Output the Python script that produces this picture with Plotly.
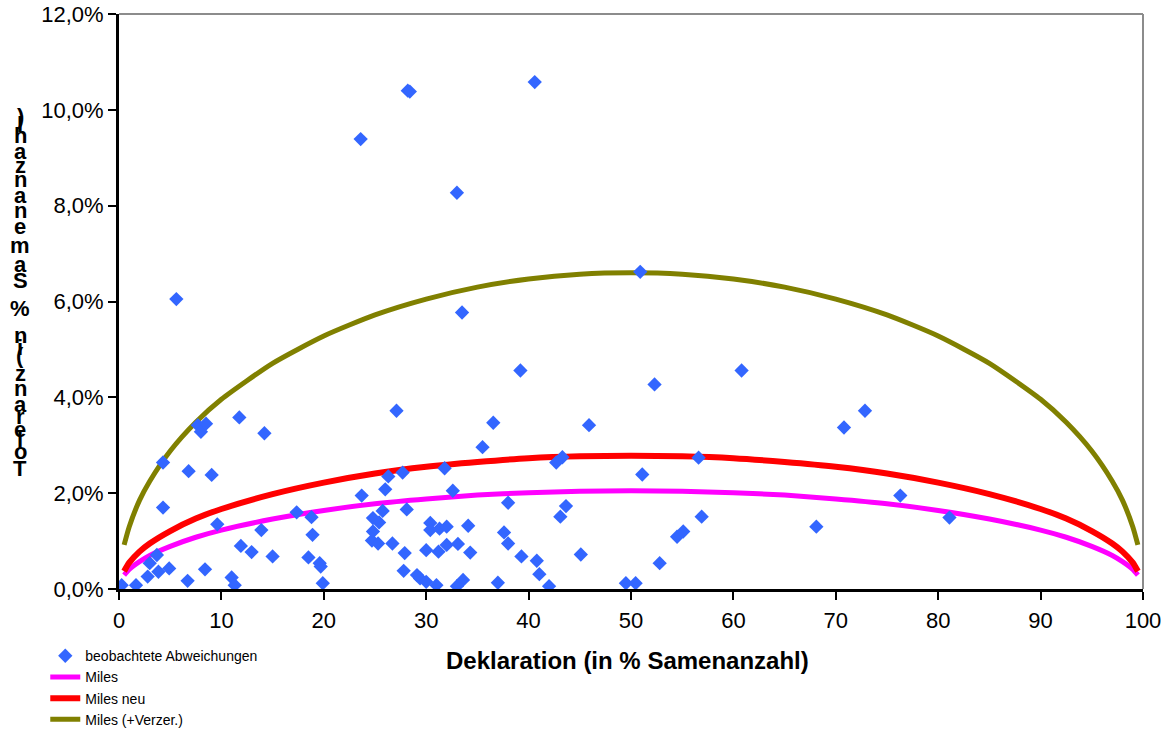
import plotly.graph_objects as go

# Beobachtete Abweichungen: Deklaration (% Samenanzahl) vs. Abweichung (%)
obs_x = [0.26, 1.66, 2.8, 3.0, 3.7, 3.85, 4.9, 4.3, 4.3, 5.6,
         6.7, 6.8, 7.7, 8.0, 8.5, 8.4, 9.05, 9.6, 11.0, 11.3,
         11.75, 11.9, 12.95, 13.9, 14.2, 15.0, 17.35, 18.5, 18.8, 18.9,
         19.6, 19.7, 19.9, 23.6, 23.7, 24.7, 24.8, 24.8, 25.3, 25.4,
         25.75, 26.0, 26.3, 26.7, 27.1, 27.7, 27.8, 27.9, 28.1, 28.2,
         28.4, 29.1, 29.4, 30.0, 30.0, 30.4, 30.4, 31.0, 31.2, 31.3,
         31.8, 32.0, 32.0, 32.6, 33.0, 33.0, 33.1, 33.5, 33.6, 34.1,
         34.3, 35.5, 36.55, 37.0, 37.6, 38.0, 38.0, 39.2, 39.3, 40.6,
         40.8, 41.05, 42.0, 42.7, 43.3, 43.1, 43.65, 45.1, 45.9, 49.5,
         50.45, 50.9, 51.1, 52.3, 52.8, 54.5, 55.1, 56.6, 56.9, 60.8,
         68.1, 70.8, 72.85, 76.3, 81.1]
obs_y = [0.08, 0.08, 0.26, 0.54, 0.71, 0.36, 0.43, 2.64, 1.70, 6.05,
         0.17, 2.46, 3.42, 3.28, 3.45, 0.41, 2.38, 1.35, 0.24, 0.08,
         3.58, 0.90, 0.77, 1.23, 3.25, 0.68, 1.60, 0.66, 1.50, 1.13,
         0.54, 0.47, 0.12, 9.39, 1.95, 1.01, 1.48, 1.20, 0.95, 1.39,
         1.63, 2.08, 2.35, 0.95, 3.72, 2.43, 0.38, 0.75, 1.66, 10.40,
         10.38, 0.29, 0.22, 0.15, 0.81, 1.38, 1.23, 0.08, 0.78, 1.26,
         2.52, 1.30, 0.92, 2.05, 8.27, 0.06, 0.94, 5.77, 0.19, 1.32,
         0.76, 2.96, 3.47, 0.13, 1.18, 0.95, 1.80, 4.56, 0.68, 10.58,
         0.59, 0.31, 0.06, 2.64, 2.75, 1.51, 1.73, 0.72, 3.42, 0.12,
         0.12, 6.62, 2.39, 4.27, 0.54, 1.09, 1.20, 2.74, 1.51, 4.56,
         1.30, 3.37, 3.72, 1.95, 1.49]

# Toleranzkurven (Werte in %)
curve_x = [0.5, 1, 2, 3, 5, 7.5, 10, 15, 20, 25, 30, 35, 40, 45, 50,
           55, 60, 65, 70, 75, 80, 85, 90, 92.5, 95, 97, 98, 99, 99.5]
miles = [0.29, 0.41, 0.57, 0.70, 0.89, 1.08, 1.23, 1.46, 1.64, 1.78, 1.88, 1.96, 2.01, 2.04, 2.05,
         2.04, 2.01, 1.96, 1.88, 1.78, 1.64, 1.46, 1.23, 1.08, 0.89, 0.70, 0.57, 0.41, 0.29]
miles_neu = [0.37, 0.55, 0.78, 0.95, 1.21, 1.47, 1.67, 1.98, 2.22, 2.41, 2.55, 2.65, 2.73, 2.77, 2.78,
             2.77, 2.73, 2.65, 2.55, 2.41, 2.22, 1.98, 1.67, 1.47, 1.21, 0.95, 0.78, 0.55, 0.37]
miles_verz = [0.92, 1.30, 1.85, 2.25, 2.88, 3.48, 3.96, 4.71, 5.28, 5.72, 6.05, 6.30, 6.47, 6.57, 6.60,
              6.57, 6.47, 6.30, 6.05, 5.72, 5.28, 4.71, 3.96, 3.48, 2.88, 2.25, 1.85, 1.30, 0.92]

x_ticks = [0, 10, 20, 30, 40, 50, 60, 70, 80, 90, 100]
y_ticks = [0.0, 0.02, 0.04, 0.06, 0.08, 0.10, 0.12]

FONT = "Arial, 'Liberation Sans', sans-serif"

fig = go.Figure()

for name, vals, color, width, rank in [
    ("Miles", miles, "#FF00FF", 5, 2),
    ("Miles neu", miles_neu, "#FF0000", 6, 3),
    ("Miles (+Verzer.)", miles_verz, "#808000", 5, 4),
]:
    fig.add_trace(go.Scatter(
        x=curve_x, y=[v / 100 for v in vals], mode="lines", name=name,
        line=dict(color=color, width=width, shape="spline", smoothing=0.6),
        legendrank=rank, hoverinfo="skip"))

fig.add_trace(go.Scatter(
    x=obs_x, y=[v / 100 for v in obs_y], mode="markers",
    name="beobachtete Abweichungen", legendrank=1,
    marker=dict(symbol="diamond", size=11, color="#3366FF", line=dict(width=0))))

# Plotrahmen oben und rechts (grau)
fig.add_shape(type="line", xref="paper", yref="paper", x0=0, x1=1, y0=1, y1=1,
              line=dict(color="#8C8C8C", width=2), layer="below")
fig.add_shape(type="line", xref="paper", yref="paper", x0=1, x1=1, y0=0, y1=1,
              line=dict(color="#8C8C8C", width=2), layer="below")

# X-Achsentitel
fig.add_annotation(text="<b>Deklaration (in % Samenanzahl)</b>", xref="paper", yref="paper",
                   x=0.4966, y=-0.1252, xanchor="center", yanchor="middle",
                   showarrow=False, font=dict(family=FONT, size=24, color="black"))

# Y-Achsentitel: Buchstaben aufrecht übereinander gestapelt
y_title = "Toleranz (in % Samenanzahl)"
adv = {'T': 611, 'o': 611, 'l': 278, 'e': 556, 'r': 389, 'a': 556, 'n': 611, 'z': 500,
       ' ': 278, '(': 333, 'i': 278, '%': 889, 'S': 667, 'm': 889, 'h': 611, ')': 333}
centers, acc = [], 0
for ch in y_title:
    centers.append(acc + adv[ch] / 2)
    acc += adv[ch]
plot_top, plot_h = 14, 575
bottom_px, top_px = 468, 116
for ch, c in zip(y_title, centers):
    if ch == " ":
        continue
    py = bottom_px - (c - centers[0]) * (bottom_px - top_px) / (centers[-1] - centers[0])
    fig.add_annotation(text=f"<b>{ch}</b>", xref="paper", yref="paper",
                       x=(20 - 119) / 1024, y=(plot_top + plot_h - py) / plot_h,
                       xanchor="center", yanchor="middle", showarrow=False,
                       font=dict(family=FONT, size=22, color="black"))

fig.update_layout(
    template="none",
    width=1174, height=731,
    margin=dict(l=119, r=31, t=14, b=142, autoexpand=False),
    paper_bgcolor="white", plot_bgcolor="white",
    separators=",.",
    font=dict(family=FONT, color="black"),
    showlegend=True,
    legend=dict(x=-0.072, y=-0.089, xanchor="left", yanchor="top",
                font=dict(family=FONT, size=14, color="black"),
                bgcolor="rgba(0,0,0,0)", tracegroupgap=0, itemwidth=30),
    xaxis=dict(range=[0, 100], tickvals=x_ticks, showgrid=False, zeroline=False,
               automargin=False,
               showline=True, linecolor="black", linewidth=3,
               ticks="outside", ticklen=8, tickwidth=2, tickcolor="black",
               ticklabelstandoff=2,
               tickfont=dict(family=FONT, size=22, color="black")),
    yaxis=dict(range=[0, 0.12], tickvals=y_ticks, tickformat=".1%", showgrid=False,
               automargin=False,
               zeroline=False, showline=True, linecolor="black", linewidth=3,
               ticks="outside", ticklen=8, tickwidth=2, tickcolor="black",
               tickfont=dict(family=FONT, size=22, color="black")),
)

fig.write_html("out.html")
